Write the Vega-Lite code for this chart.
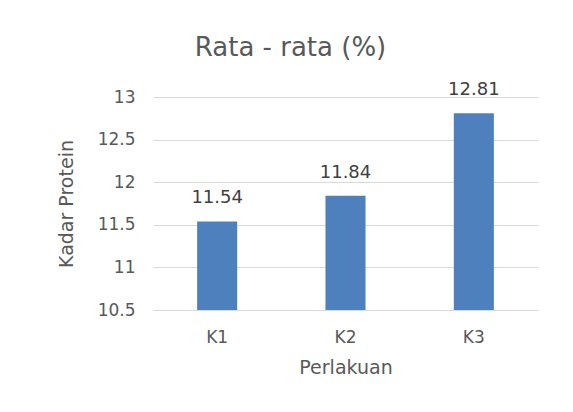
{
  "$schema": "https://vega.github.io/schema/vega-lite/v6.json",
  "autosize": "none",
  "width": 385,
  "height": 213,
  "padding": {"left": 153, "top": 97, "right": 35, "bottom": 102},
  "background": "white",
  "config": {"view": {"stroke": null}},
  "title": {
    "text": "Rata - rata (%)",
    "font": "DejaVu Sans",
    "fontSize": 26,
    "fontWeight": "normal",
    "color": "#595959",
    "anchor": "middle",
    "dx": -55,
    "offset": 20
  },
  "data": {
    "values": [
      {"perlakuan": "K1", "kadar": 11.54},
      {"perlakuan": "K2", "kadar": 11.84},
      {"perlakuan": "K3", "kadar": 12.81}
    ]
  },
  "encoding": {
    "x": {
      "field": "perlakuan",
      "type": "nominal",
      "scale": {"paddingInner": 0.688, "paddingOuter": 0.344},
      "axis": {
        "title": "Perlakuan",
        "titleFont": "DejaVu Sans",
        "titleFontSize": 19,
        "titleFontWeight": "normal",
        "titleColor": "#595959",
        "titlePadding": 13,
        "labelAngle": 0,
        "labelFont": "DejaVu Sans",
        "labelFontSize": 17,
        "labelColor": "#595959",
        "labelPadding": 19,
        "ticks": false,
        "domainColor": "#d9d9d9",
        "domainWidth": 1
      }
    },
    "y": {
      "field": "kadar",
      "type": "quantitative",
      "scale": {"domain": [10.5, 13], "zero": false, "nice": false},
      "axis": {
        "values": [10.5, 11, 11.5, 12, 12.5, 13],
        "format": "~g",
        "title": "Kadar Protein",
        "titleFont": "DejaVu Sans",
        "titleFontSize": 19,
        "titleFontWeight": "normal",
        "titleColor": "#595959",
        "titlePadding": 21,
        "labelFont": "DejaVu Sans",
        "labelFontSize": 17,
        "labelColor": "#595959",
        "labelPadding": 18,
        "ticks": false,
        "domain": false,
        "gridColor": "#d9d9d9",
        "gridWidth": 1
      }
    }
  },
  "layer": [
    {"mark": {"type": "bar", "color": "#4E80BD", "clip": true}},
    {
      "mark": {
        "type": "text",
        "baseline": "alphabetic",
        "dy": -18,
        "font": "DejaVu Sans",
        "fontSize": 18,
        "color": "#404040"
      },
      "encoding": {"text": {"field": "kadar", "type": "quantitative", "format": ".2f"}}
    }
  ]
}
